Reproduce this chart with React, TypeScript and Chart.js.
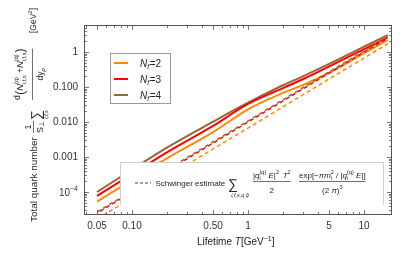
import React, { useEffect, useRef } from "react";
import { Chart, registerables } from "chart.js";

Chart.register(...registerables);

// ---- data ----
const lifetime = [0.05, 0.1, 0.2, 0.5, 1, 2, 3, 5, 10, 16];
const nf2Values = [5.3e-5, 2.19e-4, 9.1e-4, 5.15e-3, 0.0231, 0.068, 0.115, 0.255, 0.92, 2.2];
const nf3Values = [7.7e-5, 3.24e-4, 1.36e-3, 7.7e-3, 0.0327, 0.093, 0.169, 0.387, 1.2, 2.6];
const nf4Values = [1.0e-4, 4.35e-4, 1.85e-3, 0.0102, 0.0355, 0.112, 0.205, 0.457, 1.42, 3.05];

const schwingerT = [0.05, 0.1, 0.5, 1, 2, 5, 10, 16];
const schwNf2 = [1.7e-5, 6.7e-5, 1.7e-3, 6.7e-3, 0.027, 0.17, 0.67, 1.72];
const schwNf3 = [2.5e-5, 1.0e-4, 2.5e-3, 0.01, 0.04, 0.25, 1.0, 2.5];
const schwNf4 = [2.7e-5, 1.07e-4, 2.7e-3, 0.0107, 0.043, 0.27, 1.07, 2.7];

const seriesLabels = ["2", "3", "4"];
const seriesColors = ["#FF8A00", "#FF0000", "#996633"];

const xMajorTicks = [0.05, 0.1, 0.5, 1, 5, 10];
const xTickLabels = ["0.05", "0.10", "0.50", "1", "5", "10"];
const yMajorTicks = [1e-4, 1e-3, 1e-2, 0.1, 1];
const yTickLabels = ["10^-4", "0.001", "0.010", "0.100", "1"];

const X_MIN = 0.0386;
const X_MAX = 17.4;
const Y_MIN = 2.2e-5;
const Y_MAX = 5.9;

const FAM = '"Liberation Sans", Arial, sans-serif';
const TXT = "#222";
const FRAME = "#555";

type Seg = {
  t?: string;
  size: number;
  italic?: boolean;
  dy?: number;
  gap?: number;
  stack?: [string, string];
  supDy?: number;
  subDy?: number;
};

function font(size: number, italic?: boolean) {
  return `${italic ? "italic " : ""}${size}px ${FAM}`;
}

function segsWidth(ctx: CanvasRenderingContext2D, segs: Seg[]) {
  let w = 0;
  for (const s of segs) {
    ctx.font = font(s.size, s.italic);
    if (s.stack) {
      w += Math.max(ctx.measureText(s.stack[0]).width, ctx.measureText(s.stack[1]).width);
    } else {
      w += ctx.measureText(s.t || "").width;
    }
    w += s.gap || 0;
  }
  return w;
}

function drawSegs(ctx: CanvasRenderingContext2D, segs: Seg[], x: number, y: number) {
  let cx = x;
  ctx.textAlign = "left";
  ctx.textBaseline = "alphabetic";
  for (const s of segs) {
    ctx.font = font(s.size, s.italic);
    if (s.stack) {
      ctx.fillText(s.stack[0], cx, y + (s.supDy ?? -4));
      ctx.fillText(s.stack[1], cx, y + (s.subDy ?? 2.5));
      cx += Math.max(ctx.measureText(s.stack[0]).width, ctx.measureText(s.stack[1]).width);
    } else {
      ctx.fillText(s.t || "", cx, y + (s.dy || 0));
      cx += ctx.measureText(s.t || "").width;
    }
    cx += s.gap || 0;
  }
  return cx - x;
}

function hline(ctx: CanvasRenderingContext2D, x1: number, x2: number, y: number, w = 0.8) {
  ctx.beginPath();
  ctx.lineWidth = w;
  ctx.moveTo(x1, y);
  ctx.lineTo(x2, y);
  ctx.stroke();
}

function minorValues(lo: number, hi: number, majors: number[]) {
  const out: number[] = [];
  for (let k = -6; k <= 2; k++) {
    for (let n = 1; n <= 9; n++) {
      const v = n * Math.pow(10, k);
      if (v < lo || v > hi) continue;
      if (majors.some((m) => Math.abs(m - v) / m < 1e-6)) continue;
      out.push(v);
    }
  }
  return out;
}

const decorPlugin = {
  id: "decor",
  afterDatasetsDraw(chart: any) {
    const ctx: CanvasRenderingContext2D = chart.ctx;
    const a = chart.chartArea;
    const xs = chart.scales.x;
    const ys = chart.scales.y;
    ctx.save();

    // Schwinger legend box (covers curves)
    const bx1 = 120.5, bx2 = 383.5, by1 = 162.5;
    ctx.fillStyle = "#fff";
    ctx.fillRect(bx1, by1, bx2 - bx1, a.bottom - by1);
    ctx.strokeStyle = "#cfcfcf";
    ctx.lineWidth = 1;
    ctx.beginPath();
    ctx.moveTo(bx1, 205);
    ctx.lineTo(bx1, by1);
    ctx.lineTo(bx2, by1);
    ctx.lineTo(bx2, 205);
    ctx.stroke();

    // dashed sample
    ctx.strokeStyle = "#444";
    ctx.setLineDash([3, 2]);
    hline(ctx, 135, 151, 183, 1.2);
    ctx.setLineDash([]);
    ctx.fillStyle = TXT;
    drawSegs(ctx, [{ t: "Schwinger estimate", size: 8 }], 155.5, 186);

    // sum symbol
    drawSegs(ctx, [{ t: "\u2211", size: 14 }], 228, 188.5);
    ctx.font = font(5.5, true);
    const sumSub = "i,f,s,q q\u0304";
    const ssw = ctx.measureText(sumSub).width;
    ctx.fillText(sumSub, 240 - ssw / 2, 197);

    // fraction 1
    const f1num: Seg[] = [
      { t: "|", size: 8 },
      { t: "q", size: 8, italic: true },
      { stack: ["(q)", "i"], size: 5.5, supDy: -4, subDy: 2 },
      { t: " E", size: 8, italic: true },
      { t: "|", size: 8 },
      { t: "2", size: 5.5, dy: -4, gap: 1.5 },
      { t: " T", size: 8, italic: true },
      { t: "2", size: 5.5, dy: -4 },
    ];
    const f1x = 253;
    const f1w = drawSegs(ctx, f1num, f1x, 178);
    ctx.strokeStyle = "#333";
    hline(ctx, f1x, f1x + f1w, 181.5, 0.7);
    ctx.font = font(8);
    const w2 = ctx.measureText("2").width;
    ctx.fillText("2", f1x + f1w / 2 - w2 / 2, 193);

    // fraction 2
    const f2num: Seg[] = [
      { t: "exp[\u2212", size: 8 },
      { t: "\u03c0", size: 8, italic: true },
      { t: "m", size: 8, italic: true },
      { stack: ["2", "i"], size: 5.5, supDy: -4, subDy: 2 },
      { t: " / |", size: 8 },
      { t: "q", size: 8, italic: true },
      { stack: ["(q)", "i"], size: 5.5, supDy: -4, subDy: 2 },
      { t: " E", size: 8, italic: true },
      { t: "|]", size: 8 },
    ];
    const f2x = 299;
    const f2w = drawSegs(ctx, f2num, f2x, 178);
    hline(ctx, f2x, f2x + f2w, 181.5, 0.7);
    const den2: Seg[] = [
      { t: "(2 ", size: 8 },
      { t: "\u03c0", size: 8, italic: true },
      { t: ")", size: 8 },
      { t: "3", size: 5.5, dy: -4 },
    ];
    const d2w = segsWidth(ctx, den2);
    drawSegs(ctx, den2, f2x + f2w / 2 - d2w / 2, 193);

    // frame
    ctx.strokeStyle = FRAME;
    ctx.lineWidth = 1;
    ctx.strokeRect(a.left + 0.5, a.top + 0.5, a.right - a.left - 1, a.bottom - a.top - 1);

    // ticks
    const L = a.left + 0.5, R = a.right - 0.5, T = a.top + 0.5, B = a.bottom - 0.5;
    ctx.lineWidth = 0.8;
    const xMinor = minorValues(X_MIN, X_MAX, xMajorTicks);
    const yMinor = minorValues(Y_MIN, Y_MAX, yMajorTicks);
    const tickX = (v: number, len: number) => {
      const px = Math.round(xs.getPixelForValue(v)) + 0.5;
      ctx.beginPath();
      ctx.moveTo(px, B);
      ctx.lineTo(px, B - len);
      ctx.moveTo(px, T);
      ctx.lineTo(px, T + len);
      ctx.stroke();
    };
    const tickY = (v: number, len: number) => {
      const py = Math.round(ys.getPixelForValue(v)) + 0.5;
      ctx.beginPath();
      ctx.moveTo(L, py);
      ctx.lineTo(L + len, py);
      ctx.moveTo(R, py);
      ctx.lineTo(R - len, py);
      ctx.stroke();
    };
    xMajorTicks.forEach((v) => tickX(v, 4.5));
    xMinor.forEach((v) => tickX(v, 2.5));
    yMajorTicks.forEach((v) => tickY(v, 4.5));
    yMinor.forEach((v) => tickY(v, 2.5));

    // tick labels
    ctx.fillStyle = "#333";
    ctx.textBaseline = "alphabetic";
    xMajorTicks.forEach((v, i) => {
      const px = xs.getPixelForValue(v);
      ctx.font = font(10);
      const w = ctx.measureText(xTickLabels[i]).width;
      ctx.fillText(xTickLabels[i], px - w / 2, 229);
    });
    yMajorTicks.forEach((v, i) => {
      const py = ys.getPixelForValue(v);
      const lab = yTickLabels[i];
      if (lab.includes("^")) {
        const [base, ex] = lab.split("^");
        const segs: Seg[] = [
          { t: base, size: 10 },
          { t: ex.replace("-", "\u2212"), size: 7, dy: -4.5 },
        ];
        const w = segsWidth(ctx, segs);
        drawSegs(ctx, segs, 78 - w, py + 4);
      } else {
        ctx.font = font(10);
        const w = ctx.measureText(lab).width;
        ctx.fillText(lab, 78 - w, py + 3.5);
      }
    });

    // x title
    ctx.fillStyle = TXT;
    drawSegs(
      ctx,
      [
        { t: "Lifetime ", size: 10 },
        { t: "T", size: 10, italic: true },
        { t: "[GeV", size: 10 },
        { t: "\u22121", size: 7, dy: -4 },
        { t: "]", size: 10 },
      ],
      197,
      245
    );

    // y title (rotated): u = -screenY, v = screenX
    ctx.save();
    ctx.rotate(-Math.PI / 2);
    let tsz = 10;
    ctx.font = font(tsz);
    const tw0 = ctx.measureText("Total quark number").width;
    tsz = Math.min(10, (10 * 85) / tw0);
    drawSegs(ctx, [{ t: "Total quark number", size: tsz }], -222, 36.5);
    // 1 / S_perp
    const sden: Seg[] = [
      { t: "S", size: 9 },
      { t: "\u22a5", size: 6.5, dy: 1.5 },
    ];
    const sdw = segsWidth(ctx, sden);
    const su = -133;
    ctx.font = font(9);
    const w1 = ctx.measureText("1").width;
    ctx.fillText("1", su + sdw / 2 - w1 / 2, 31);
    ctx.strokeStyle = "#333";
    hline(ctx, su, su + sdw, 33.5, 0.7);
    drawSegs(ctx, sden, su, 42.5);
    // sum
    drawSegs(ctx, [{ t: "\u2211", size: 14 }], -120, 41);
    ctx.font = font(5.5, true);
    const isw = ctx.measureText("i,f,s").width;
    ctx.fillText("i,f,s", -114.5 - isw / 2, 47.5);
    // big fraction
    const num: Seg[] = [
      { t: "d", size: 8.5, dy: -3, gap: 0.5 },
      { t: "(", size: 12, dy: 1 },
      { t: "N", size: 9.5, italic: true },
      { stack: ["(q)", "i,f,s"], size: 5.5, supDy: -5, subDy: 3 },
      { t: " +", size: 8.5 },
      { t: "N", size: 9.5, italic: true },
      { stack: ["(q\u0304)", "i,f,s"], size: 5.5, supDy: -5, subDy: 3 },
      { t: ")", size: 12, dy: 1 },
    ];
    const nu = -100;
    const nw = drawSegs(ctx, num, nu, 23);
    hline(ctx, nu, nu + nw, 32.5, 0.7);
    const den: Seg[] = [
      { t: "dy", size: 8.5 },
      { t: "p", size: 6, italic: true, dy: 2 },
    ];
    const dw = segsWidth(ctx, den);
    drawSegs(ctx, den, nu + nw / 2 - dw / 2, 42.5);
    drawSegs(
      ctx,
      [
        { t: "[GeV", size: 8.5 },
        { t: "2", size: 6, dy: -4 },
        { t: "]", size: 8.5 },
      ],
      -33,
      35.5
    );
    ctx.restore();

    // Nf legend
    ctx.fillStyle = "#fff";
    ctx.fillRect(110.5, 53.5, 60, 50);
    ctx.strokeStyle = "#999";
    ctx.lineWidth = 1;
    ctx.strokeRect(110.5, 53.5, 60, 50);
    const ly = [63, 79, 95];
    seriesLabels.forEach((lab, i) => {
      ctx.strokeStyle = seriesColors[i];
      hline(ctx, 114, 128, ly[i], 2);
      ctx.fillStyle = TXT;
      drawSegs(
        ctx,
        [
          { t: "N", size: 10, italic: true },
          { t: "f", size: 7, italic: true, dy: 2, gap: 0.5 },
          { t: "=" + lab, size: 10 },
        ],
        140,
        ly[i] + 3.5
      );
    });

    ctx.restore();
  },
};

function pts(xsArr: number[], ysArr: number[]) {
  return xsArr.map((x, i) => ({ x, y: ysArr[i] }));
}

export default function App() {
  const ref = useRef<HTMLCanvasElement>(null);
  useEffect(() => {
    const dashed = (data: number[], color: string, offset: number) => ({
      data: pts(schwingerT, data),
      borderColor: color,
      borderWidth: 1.5,
      borderDash: [4, 3],
      borderDashOffset: offset,
      pointRadius: 0,
      tension: 0,
      fill: false,
    });
    const solid = (data: number[], color: string) => ({
      data: pts(lifetime, data),
      borderColor: color,
      borderWidth: 2,
      pointRadius: 0,
      cubicInterpolationMode: "monotone" as const,
      fill: false,
    });
    const chart = new Chart(ref.current!, {
      type: "line",
      data: {
        datasets: [
          dashed(schwNf2, seriesColors[0], 0),
          dashed(schwNf4, seriesColors[2], 0),
          dashed(schwNf3, seriesColors[1], 3.5),
          solid(nf2Values, seriesColors[0]),
          solid(nf3Values, seriesColors[1]),
          solid(nf4Values, seriesColors[2]),
        ] as any,
      },
      options: {
        animation: false,
        responsive: false,
        maintainAspectRatio: false,
        layout: { padding: { left: 84, right: 23, top: 25, bottom: 42 } },
        scales: {
          x: { type: "logarithmic", min: X_MIN, max: X_MAX, display: false },
          y: { type: "logarithmic", min: Y_MIN, max: Y_MAX, display: false },
        },
        plugins: { legend: { display: false }, tooltip: { enabled: false } },
        events: [],
      },
      plugins: [decorPlugin],
    });
    return () => chart.destroy();
  }, []);
  return (
    <div style={{ position: "absolute", left: 0, top: 0, width: 415, height: 257, background: "#fff" }}>
      <canvas ref={ref} width={415} height={257} style={{ display: "block", width: 415, height: 257 }} />
    </div>
  );
}
